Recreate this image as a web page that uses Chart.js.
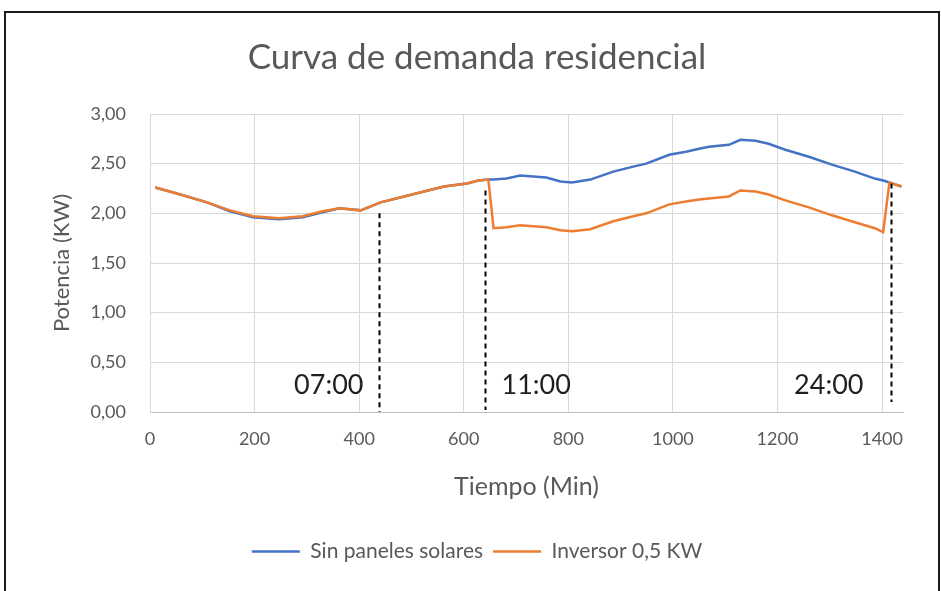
<!DOCTYPE html>
<html lang="es">
<head>
<meta charset="utf-8">
<title>Curva de demanda residencial</title>
<script src="https://cdn.jsdelivr.net/npm/chart.js@4.4.1/dist/chart.umd.min.js"></script>
<style>
    html, body { margin: 0; padding: 0; background: #fff; overflow: hidden; }
    #wrap { position: relative; width: 941px; height: 591px; }
    #grafico { position: absolute; left: 0; top: 0; }
    #marco {
        position: absolute; left: 4px; top: 11px; width: 932px; height: 620px;
        border: 2px solid #1a1a1a; pointer-events: none;
    }
</style>
</head>
<body>
<div id="wrap">
    <canvas id="grafico" width="941" height="591"></canvas>
    <div id="marco"></div>
</div>
<script>
// Tiempo en minutos y potencia en kW de cada serie
const tiempoMin = [10, 58, 109, 153, 197, 247, 292, 330, 362, 403, 441, 486, 524, 562, 606, 628, 647,
    657, 682, 708, 758, 785, 807, 842, 886, 924, 949, 993, 1025, 1050, 1069, 1107, 1129, 1158, 1183,
    1215, 1260, 1304, 1348, 1386, 1402, 1414, 1437];

const sinPaneles = [2.26, 2.19, 2.11, 2.02, 1.96, 1.94, 1.96, 2.01, 2.05, 2.03, 2.11, 2.17, 2.22, 2.27, 2.30, 2.33, 2.34,
    2.34, 2.35, 2.38, 2.36, 2.32, 2.31, 2.34, 2.42, 2.47, 2.50, 2.59, 2.62, 2.65, 2.67, 2.69, 2.74, 2.73, 2.70,
    2.64, 2.57, 2.49, 2.42, 2.35, 2.33, 2.31, 2.27];

const inversor = [2.26, 2.19, 2.11, 2.03, 1.97, 1.95, 1.97, 2.02, 2.05, 2.03, 2.11, 2.17, 2.22, 2.27, 2.30, 2.33, 2.34,
    1.85, 1.86, 1.88, 1.86, 1.83, 1.82, 1.84, 1.92, 1.97, 2.00, 2.09, 2.12, 2.14, 2.15, 2.17, 2.23, 2.22, 2.19,
    2.13, 2.06, 1.98, 1.91, 1.85, 1.81, 2.31, 2.27];

const ticksX = [0, 200, 400, 600, 800, 1000, 1200, 1400];
const ticksY = [0, 0.5, 1, 1.5, 2, 2.5, 3];

// Horas marcadas con línea discontinua
const marcasTiempo = [437, 641, 1417];
const marcasTexto = ['07:00', '11:00', '24:00'];
const marcasTope = [2.0, 2.23, 2.3];
const marcasBase = [0, 0.02, 0.1];
const marcasAlturaTexto = 0.27;

const FUENTE = 'Lato, "Open Sans", sans-serif';
const GRIS = '#595959';

const puntos = (ys) => tiempoMin.map((t, i) => ({ x: t, y: ys[i] }));
const coma = (v) => v.toFixed(2).replace('.', ',');

const marcasHorarias = {
    id: 'marcasHorarias',
    afterDatasetsDraw(chart, args, opts) {
        const { ctx, scales: { x, y } } = chart;
        ctx.save();
        marcasTiempo.forEach((t, i) => {
            const px = Math.round(x.getPixelForValue(t)) + 0.5;
            ctx.beginPath();
            ctx.setLineDash([5, 4]);
            ctx.lineWidth = 2;
            ctx.strokeStyle = '#000';
            ctx.moveTo(px, y.getPixelForValue(marcasTope[i]));
            ctx.lineTo(px, y.getPixelForValue(marcasBase[i]));
            ctx.stroke();

            ctx.setLineDash([]);
            ctx.fillStyle = '#1f1f1f';
            ctx.font = opts.fontSize + 'px ' + FUENTE;
            ctx.textBaseline = 'middle';
            ctx.textAlign = opts.align[i];
            ctx.fillText(marcasTexto[i], px + opts.offset[i], y.getPixelForValue(marcasAlturaTexto));
        });
        ctx.restore();
    }
};

new Chart(document.getElementById('grafico'), {
    type: 'line',
    data: {
        datasets: [
            {
                label: 'Sin paneles solares',
                data: puntos(sinPaneles),
                borderColor: '#4472C4',
                backgroundColor: '#4472C4',
                borderWidth: 2.5,
                pointRadius: 0,
                tension: 0,
                order: 1
            },
            {
                label: 'Inversor 0,5 KW',
                data: puntos(inversor),
                borderColor: '#ED7D31',
                backgroundColor: '#ED7D31',
                borderWidth: 2.5,
                pointRadius: 0,
                tension: 0,
                order: 0
            }
        ]
    },
    options: {
        responsive: false,
        animation: false,
        layout: { padding: { top: 0, left: 13, right: 0, bottom: 19 } },
        plugins: {
            tooltip: { enabled: false },
            title: {
                display: true,
                text: 'Curva de demanda residencial',
                color: GRIS,
                font: { family: FUENTE, size: 35, weight: 'normal' },
                padding: { top: 37, bottom: 35 }
            },
            legend: {
                position: 'bottom',
                labels: {
                    color: GRIS,
                    font: { family: FUENTE, size: 21 },
                    usePointStyle: true,
                    pointStyle: 'line',
                    pointStyleWidth: 48,
                    padding: 10,
                    sort: (a, b) => a.datasetIndex - b.datasetIndex
                }
            },
            marcasHorarias: {
                fontSize: 27,
                offset: [-16, 16, -28],
                align: ['right', 'left', 'right']
            }
        },
        scales: {
            x: {
                type: 'linear',
                min: 0,
                max: 1440,
                afterBuildTicks: (s) => { s.ticks = ticksX.map(v => ({ value: v })); },
                afterFit: (s) => { s.height = 119; },
                grid: { color: '#d9d9d9', drawTicks: false },
                border: { color: '#bfbfbf' },
                ticks: {
                    color: GRIS,
                    font: { family: FUENTE, size: 18 },
                    padding: 16,
                    maxRotation: 0,
                    callback: (v) => String(v)
                },
                title: {
                    display: true,
                    text: 'Tiempo (Min)',
                    color: GRIS,
                    font: { family: FUENTE, size: 25 },
                    padding: { top: 0, bottom: 29 }
                }
            },
            y: {
                min: 0,
                max: 3,
                afterBuildTicks: (s) => { s.ticks = ticksY.map(v => ({ value: v })); },
                afterFit: (s) => { s.width = 137; },
                grid: { color: '#d9d9d9', drawTicks: false },
                border: { color: '#d9d9d9' },
                ticks: {
                    color: GRIS,
                    font: { family: FUENTE, size: 18 },
                    padding: 24,
                    callback: (v) => coma(v)
                },
                title: {
                    display: true,
                    text: 'Potencia (KW)',
                    color: GRIS,
                    font: { family: FUENTE, size: 22 },
                    padding: { top: 36, bottom: 0 }
                }
            },
            // margen derecho del área de trazado
            yDer: {
                position: 'right',
                afterFit: (s) => { s.width = 38; },
                grid: { display: false },
                border: { display: false },
                ticks: { display: false }
            }
        }
    },
    plugins: [marcasHorarias]
});
</script>
</body>
</html>
